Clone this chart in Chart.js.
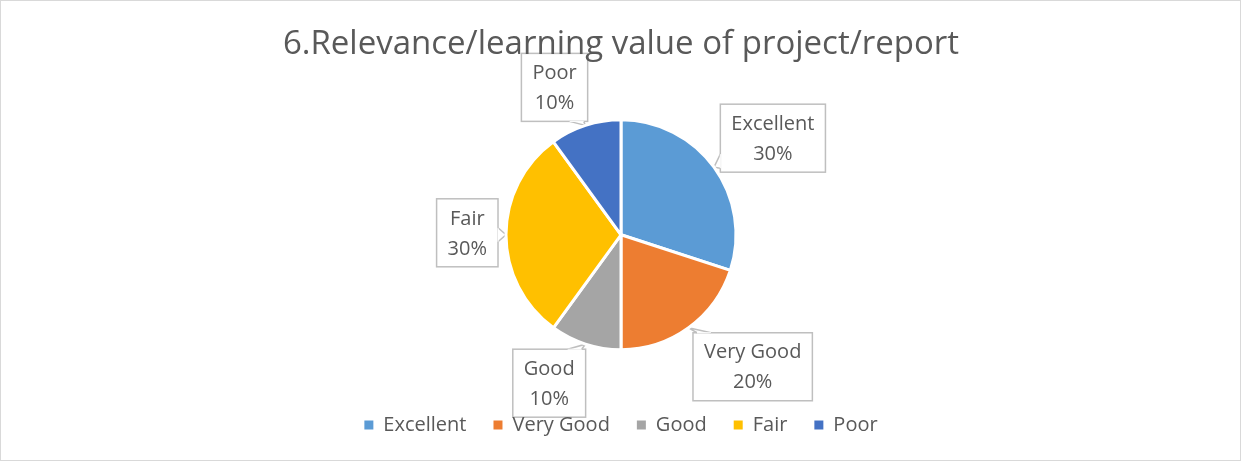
<!DOCTYPE html>
<html>
<head>
<meta charset="utf-8">
<script src="https://cdn.jsdelivr.net/npm/chart.js@4/dist/chart.umd.min.js"></script>
<style>
  html, body { margin: 0; padding: 0; background: #fff; }
  #wrap { width: 1242px; height: 462px; position: relative; }
</style>
</head>
<body>
<div id="wrap"><canvas id="myPie"></canvas></div>
<script>
const categories = ['Excellent', 'Very Good', 'Good', 'Fair', 'Poor'];
const shares = [30, 20, 10, 30, 10];
const sliceColors = ['#5B9BD5', '#ED7D31', '#A5A5A5', '#FFC000', '#4472C4'];
const chartTitle = '6.Relevance/learning value of project/report';

const FONT = "'Open Sans', sans-serif";
const GREY = '#595959';
// small hand nudges (px) so the callouts sit where excel put them
const calloutNudge = [[1, 13], [22, -19], [-20, -11], [1, -2], [-15, 11]];

// frame round the whole chart
const framePlugin = {
  id: 'frame',
  beforeDraw(chart) {
    const ctx = chart.ctx;
    ctx.save();
    ctx.fillStyle = '#fff';
    ctx.fillRect(0, 0, chart.width, chart.height);
    ctx.strokeStyle = '#d9d9d9';
    ctx.lineWidth = 1;
    ctx.strokeRect(0.5, 0.5, chart.width - 2, chart.height - 2);
    ctx.restore();
  }
};

// callout boxes like the excel data labels (drawn before the legend so it sits on top)
const calloutPlugin = {
  id: 'callouts',
  beforeDraw(chart) {
    const ctx = chart.ctx;
    const meta = chart.getDatasetMeta(0);
    const total = shares.reduce((a, b) => a + b, 0);
    ctx.save();
    ctx.font = '20px ' + FONT;
    ctx.textAlign = 'center';
    ctx.textBaseline = 'middle';
    const lineH = 30;
    meta.data.forEach((arc, i) => {
      const p = arc.getProps(['x', 'y', 'startAngle', 'endAngle', 'outerRadius']);
      const mid = (p.startAngle + p.endAngle) / 2;
      const r = p.outerRadius;
      const cos = Math.cos(mid), sin = Math.sin(mid);
      const line1 = categories[i];
      const line2 = Math.round(shares[i] / total * 100) + '%';
      const w = Math.max(ctx.measureText(line1).width, ctx.measureText(line2).width) + 22;
      const h = lineH * 2 + 8;
      const proj = Math.abs(cos) * w / 2 + Math.abs(sin) * h / 2;
      const d = r + 9 + proj;
      const cx = p.x + cos * d + calloutNudge[i][0];
      const cy = p.y + sin * d + calloutNudge[i][1];
      const left = cx - w / 2, top = cy - h / 2, right = cx + w / 2, bottom = cy + h / 2;
      const tx = p.x + cos * r, ty = p.y + sin * r;

      // pointer base on the side facing the tip
      const outX = tx < left ? left - tx : (tx > right ? tx - right : 0);
      const outY = ty < top ? top - ty : (ty > bottom ? ty - bottom : 0);
      let b1, b2;
      const half = 7;
      if (outY >= outX) {
        const ey = ty > bottom ? bottom : top;
        const bx = Math.min(Math.max(tx, left + half + 4), right - half - 4);
        b1 = [bx - half, ey]; b2 = [bx + half, ey];
      } else {
        const ex = tx > right ? right : left;
        const by = Math.min(Math.max(ty, top + half + 4), bottom - half - 4);
        b1 = [ex, by - half]; b2 = [ex, by + half];
      }

      ctx.fillStyle = '#fff';
      ctx.strokeStyle = '#bfbfbf';
      ctx.lineWidth = 1.5;
      ctx.fillRect(left, top, w, h);
      ctx.strokeRect(left, top, w, h);
      ctx.beginPath();
      ctx.moveTo(b1[0], b1[1]);
      ctx.lineTo(tx, ty);
      ctx.lineTo(b2[0], b2[1]);
      ctx.closePath();
      ctx.fill();
      ctx.beginPath();
      ctx.moveTo(b1[0], b1[1]);
      ctx.lineTo(tx, ty);
      ctx.lineTo(b2[0], b2[1]);
      ctx.stroke();
      // patch the box edge under the pointer base
      ctx.beginPath();
      ctx.moveTo(b1[0], b1[1]);
      ctx.lineTo(b2[0], b2[1]);
      ctx.strokeStyle = '#fff';
      ctx.lineWidth = 1;
      ctx.stroke();

      ctx.fillStyle = GREY;
      ctx.fillText(line1, cx, cy - lineH / 2 + 1);
      ctx.fillText(line2, cx, cy + lineH / 2 + 1);
    });
    ctx.restore();
  }
};

const pieData = {
  labels: categories,
  datasets: [{
    data: shares,
    backgroundColor: sliceColors,
    borderColor: '#fff',
    borderWidth: 3,
    radius: 115
  }]
};

const config = {
  type: 'pie',
  data: pieData,
  options: {
    responsive: true,
    maintainAspectRatio: false,
    animation: false,
    layout: { padding: { top: 0, bottom: 17, left: 0, right: 0 } },
    plugins: {
      title: {
        display: true,
        text: chartTitle,
        color: GREY,
        font: { family: FONT, size: 33, weight: 'normal' },
        padding: { top: 25, bottom: 17 }
      },
      legend: {
        position: 'bottom',
        labels: {
          color: GREY,
          font: { family: FONT, size: 20 },
          boxWidth: 9,
          boxHeight: 9,
          padding: 27,
          generateLabels(chart) {
            return categories.map((c, i) => ({
              text: c,
              fillStyle: sliceColors[i],
              strokeStyle: sliceColors[i],
              lineWidth: 0,
              fontColor: GREY,
              index: i
            }));
          }
        }
      },
      tooltip: { enabled: false }
    }
  },
  plugins: [framePlugin, calloutPlugin]
};

const myPie = new Chart(document.getElementById('myPie'), config);
</script>
</body>
</html>
